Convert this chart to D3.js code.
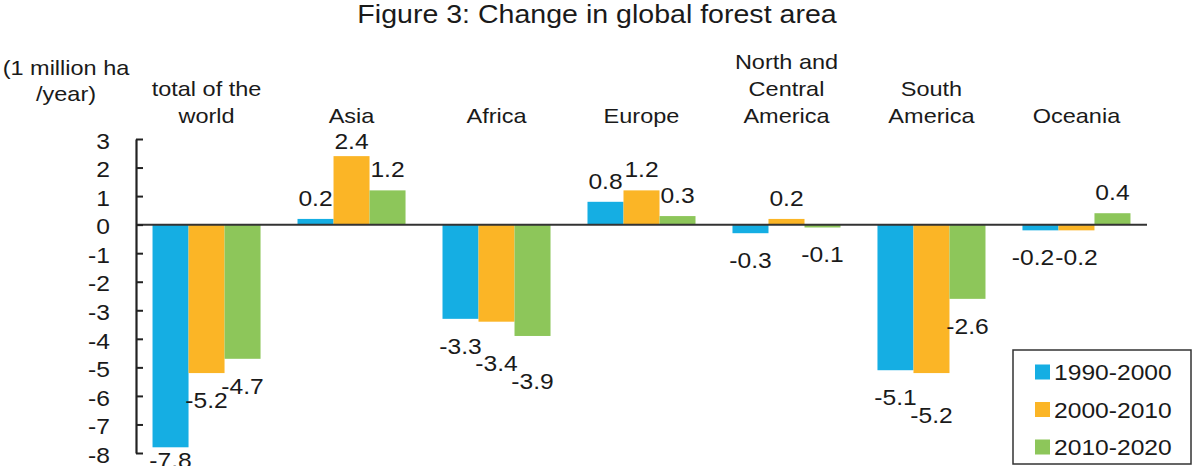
<!DOCTYPE html>
<html>
<head>
<meta charset="utf-8">
<script src="https://cdn.jsdelivr.net/npm/d3@7"></script>
<style>
  html, body { margin: 0; padding: 0; background: #fff; }
  svg { display: block; }
  text { font-family: "Liberation Sans", Arial, sans-serif; fill: #1a1a1a; }
</style>
</head>
<body>
<svg id="chart" width="1193" height="466"></svg>
<script>
// ---- data ----
const title = "Figure 3: Change in global forest area";
const yAxisLabel = ["(1 million ha", "/year)"];
const categories = [
  ["total of the", "world"],
  ["Asia"],
  ["Africa"],
  ["Europe"],
  ["North and", "Central", "America"],
  ["South", "America"],
  ["Oceania"]
];
const seriesNames = ["1990-2000", "2000-2010", "2010-2020"];
const s1990_2000 = [-7.8, 0.2, -3.3, 0.8, -0.3, -5.1, -0.2];
const s2000_2010 = [-5.2, 2.4, -3.4, 1.2, 0.2, -5.2, -0.2];
const s2010_2020 = [-4.7, 1.2, -3.9, 0.3, -0.1, -2.6, 0.4];
const yTicks = [3, 2, 1, 0, -1, -2, -3, -4, -5, -6, -7, -8];
const colors = ["#15AEE3", "#FBB526", "#8DC65A"];

const seriesValues = [s1990_2000, s2000_2010, s2010_2020];

// ---- layout ----
const SX = 1.12; // horizontal text stretch of the reference
const svg = d3.select("#chart");
const catKeys = categories.map((c, i) => i);

const x0 = d3.scaleBand().domain(catKeys).range([136, 1147])
  .paddingInner(0.255).paddingOuter(0.114);
const x1 = d3.scaleBand().domain(d3.range(seriesNames.length)).range([0, x0.bandwidth()]);
const y = d3.scaleLinear().domain([-8, 3]).range([453, 139]);

function stext(parent, x, yy, str, size, anchor) {
  return parent.append("text")
    .attr("transform", `translate(${x},${yy}) scale(${SX},1)`)
    .attr("text-anchor", anchor || "middle")
    .attr("font-size", size)
    .text(str);
}

// title
stext(svg, 597, 23, title, 25.5, "middle");

// y axis label
yAxisLabel.forEach((t, i) => stext(svg, 66, 75 + i * 26, t, 21, "middle"));

// category labels (bottom-aligned at baseline 123)
categories.forEach((lines, i) => {
  const cx = x0(i) + x0.bandwidth() / 2;
  const n = lines.length;
  lines.forEach((t, k) => stext(svg, cx, 123 - (n - 1 - k) * 27, t, 21, "middle"));
});

// bars
const gBars = svg.append("g");
catKeys.forEach(i => {
  seriesValues.forEach((vals, j) => {
    const v = vals[i];
    gBars.append("rect")
      .attr("x", x0(i) + x1(j))
      .attr("width", x1.bandwidth())
      .attr("y", y(Math.max(0, v)))
      .attr("height", Math.abs(y(v) - y(0)))
      .attr("fill", colors[j]);
  });
});

// zero line
svg.append("line")
  .attr("x1", 136).attr("x2", 1147)
  .attr("y1", y(0)).attr("y2", y(0))
  .attr("stroke", "#333").attr("stroke-width", 2);

// y axis
const axis = d3.axisLeft(y).tickValues(yTicks).tickFormat(d => String(d))
  .tickSize(-7).tickSizeOuter(0).tickPadding(26 / SX);
const gAxis = svg.append("g").attr("transform", "translate(136,0)").call(axis);
gAxis.select(".domain").attr("stroke", "#222").attr("stroke-width", 2.2);
gAxis.selectAll(".tick line").attr("stroke", "#222").attr("stroke-width", 2);
gAxis.selectAll(".tick text")
  .attr("font-size", 22)
  .attr("font-family", '"Liberation Sans", Arial, sans-serif')
  .attr("fill", "#1a1a1a")
  .attr("dy", "0.42em")
  .attr("x", -26 / SX)
  .attr("transform", `scale(${SX},1)`);

// value labels
const LSIZE = 22, CAP = 15.8;
const catBase = 123;
const gLab = svg.append("g");
catKeys.forEach(i => {
  const placed = [];
  seriesValues.forEach((vals, j) => {
    const v = vals[i];
    const cx = x0(i) + x1(j) + x1.bandwidth() / 2;
    const t = stext(gLab, cx, 0, String(v), LSIZE, "middle");
    const w = t.node().getBBox().width * SX;
    let base;
    if (v >= 0) {
      base = y(v) - 13;
      base = Math.max(base, catBase + 10 + CAP);
    } else {
      base = y(v) + 19 + CAP;
      base = Math.min(base, y(-8) - 1 + CAP);
    }
    const lab = { t, cx, w, base, naive: base, neg: v < 0 };
    if (lab.neg) {
      placed.forEach(p => {
        if (!p.neg) return;
        const hov = Math.min(p.cx + p.w / 2, lab.cx + lab.w / 2) - Math.max(p.cx - p.w / 2, lab.cx - lab.w / 2);
        const vov = Math.min(p.base, lab.base) - Math.max(p.base - CAP, lab.base - CAP);
        if (hov > 0 && vov > 5) {
          if (Math.abs(p.naive - lab.naive) < 2) {
            p.cx -= hov + 1;
          } else {
            lab.base = p.base + 2 + CAP;
          }
        }
      });
    }
    placed.push(lab);
  });
  placed.forEach(p => p.t.attr("transform", `translate(${p.cx},${p.base}) scale(${SX},1)`));
});

// legend
const gLeg = svg.append("g");
gLeg.append("rect")
  .attr("x", 1013).attr("y", 350).attr("width", 178).attr("height", 114)
  .attr("fill", "#fff").attr("stroke", "#333").attr("stroke-width", 1.5);
seriesNames.forEach((name, j) => {
  const cy = 372 + j * 37.5;
  gLeg.append("rect").attr("x", 1035).attr("y", cy - 7.5).attr("width", 15).attr("height", 15)
    .attr("fill", colors[j]);
  stext(gLeg, 1054, cy + 8, name, 22, "start");
});
</script>
</body>
</html>
